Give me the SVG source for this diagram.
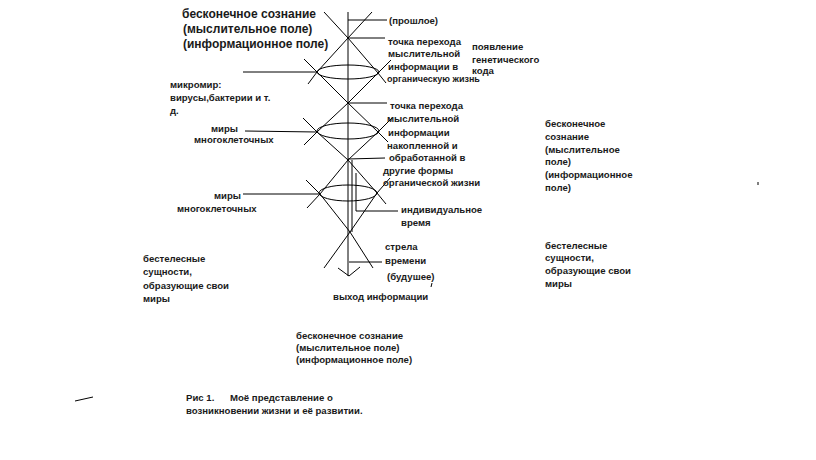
<svg xmlns="http://www.w3.org/2000/svg" width="816" height="460" viewBox="0 0 816 460">
<style>
.t{font-family:"Liberation Sans",Arial,sans-serif;font-weight:bold;font-size:9.6px;fill:#1a1a1a}
.h{font-size:12px}
.ln{stroke:#000;stroke-width:1;fill:none}
</style>
<rect width="816" height="460" fill="#fff"/>
<g id="figure" class="ln">
<line x1="348" y1="12" x2="348" y2="276"/>
<line x1="352" y1="160" x2="352" y2="232"/>
<polyline points="324,12 348,38 378,73 386,83"/>
<polyline points="372,12 348,38 317,72 308,84"/>
<polyline points="304,59 317,72 348,103 378,132 388,142"/>
<polyline points="391,60 378,73 348,103 317,132 304,145"/>
<polyline points="303,118 317,132 348,160 377,193 386,204"/>
<polyline points="392,118 378,132 348,160 320,194 307,208"/>
<polyline points="306,180 320,194 350,232 373,268"/>
<polyline points="390,178 377,193 350,232 324,268"/>
<ellipse cx="348" cy="72" rx="31" ry="7"/>
<ellipse cx="348" cy="131" rx="31" ry="8"/>
<ellipse cx="348" cy="193" rx="29" ry="8"/>
<polyline points="338,268 349,276 360,267"/>
</g>
<g id="connectors" class="ln">
<line x1="348" y1="20" x2="387" y2="20"/>
<line x1="348" y1="38" x2="385" y2="38"/>
<line x1="348" y1="103" x2="387" y2="103"/>
<line x1="348" y1="159" x2="385" y2="158"/>
<line x1="243" y1="72" x2="317" y2="72"/>
<line x1="245" y1="131" x2="317" y2="132"/>
<line x1="243" y1="194" x2="320" y2="194"/>
<polyline points="356,173 356,211 398,211"/>
<line x1="349" y1="262" x2="382" y2="262"/>
<line x1="75" y1="401" x2="93" y2="397"/>
<line x1="432" y1="283" x2="431" y2="287"/>
<line x1="758" y1="182" x2="758" y2="185"/>
</g>
<g id="top-title"><text class="t h" x="182" y="18">бесконечное сознание</text><text class="t h" x="183" y="33">(мыслительное поле)</text><text class="t h" x="183" y="48">(информационное поле)</text></g>
<g id="past"><text class="t" x="389" y="24">(прошлое)</text></g>
<g id="transition1"><text class="t" x="388" y="45">точка перехода</text><text class="t" x="388" y="57">мыслительной</text><text class="t" x="388" y="70">информации в</text><text class="t" x="387" y="82" style="font-size:9px">органическую жизнь</text></g>
<g id="genetic"><text class="t" x="472" y="50">появление</text><text class="t" x="472" y="63">генетического</text><text class="t" x="472" y="74">кода</text></g>
<g id="microworld"><text class="t" x="170" y="88">микромир:</text><text class="t" x="170" y="101">вирусы,бактерии и т.</text><text class="t" x="170" y="114">д.</text></g>
<g id="transition2"><text class="t" x="390" y="109">точка перехода</text><text class="t" x="387" y="122">мыслительной</text><text class="t" x="388" y="136">информации</text><text class="t" x="387" y="149">накопленной и</text><text class="t" x="389" y="161">обработанной в</text><text class="t" x="383" y="174">другие формы</text><text class="t" x="383" y="186">органической жизни</text></g>
<g id="multicell1"><text class="t" x="211" y="132">миры</text><text class="t" x="194" y="143">многоклеточных</text></g>
<g id="multicell2"><text class="t" x="214" y="199">миры</text><text class="t" x="177" y="212">многоклеточных</text></g>
<g id="individual-time"><text class="t" x="401" y="213">индивидуальное</text><text class="t" x="401" y="226">время</text></g>
<g id="time-arrow"><text class="t" x="385" y="250">стрела</text><text class="t" x="385" y="264">времени</text></g>
<g id="future"><text class="t" x="387" y="280">(будушее)</text></g>
<g id="output"><text class="t" x="333" y="300">выход информации</text></g>
<g id="right-consciousness"><text class="t" x="545" y="127">бесконечное</text><text class="t" x="545" y="140">сознание</text><text class="t" x="545" y="153">(мыслительное</text><text class="t" x="545" y="165">поле)</text><text class="t" x="545" y="178">(информационное</text><text class="t" x="545" y="191">поле)</text></g>
<g id="right-entities"><text class="t" x="545" y="249">бестелесные</text><text class="t" x="545" y="261">сущности,</text><text class="t" x="545" y="274">образующие свои</text><text class="t" x="545" y="287">миры</text></g>
<g id="left-entities"><text class="t" x="143" y="262">бестелесные</text><text class="t" x="143" y="275">сущности,</text><text class="t" x="143" y="289">образующие свои</text><text class="t" x="143" y="302">миры</text></g>
<g id="bottom-consciousness"><text class="t" x="296" y="339">бесконечное сознание</text><text class="t" x="296" y="351">(мыслительное поле)</text><text class="t" x="296" y="363">(информационное поле)</text></g>
<g id="caption"><text class="t" x="186" y="401">Рис 1.</text><text class="t" x="230" y="401">Моё представление о</text><text class="t" x="186" y="414">возникновении жизни и её развитии.</text></g>
</svg>
